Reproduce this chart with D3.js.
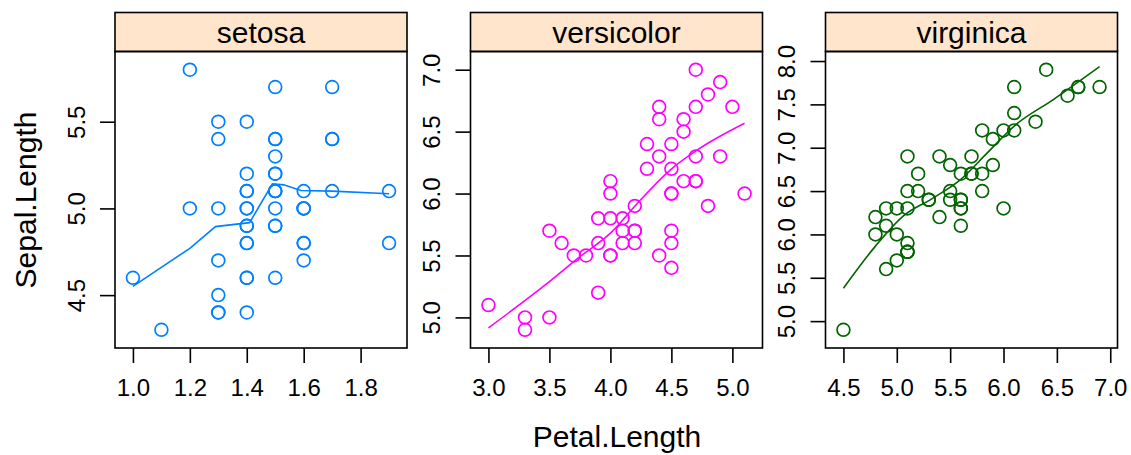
<!DOCTYPE html>
<html>
<head>
<meta charset="utf-8">
<script src="https://d3js.org/d3.v7.min.js"></script>
<style>
  body { margin: 0; background: #fff; }
  svg text { font-family: "Liberation Sans", Arial, Helvetica, sans-serif; fill: #000; }
</style>
</head>
<body>
<svg id="chart" width="1131" height="455"></svg>
<script>
// iris: Petal.Length / Sepal.Length by species
const species = ["setosa", "versicolor", "virginica"];
const colors = ["#0080ff", "#ff00ff", "#006400"];

const setosaPetal = [1.4,1.4,1.3,1.5,1.4,1.7,1.4,1.5,1.4,1.5,1.5,1.6,1.4,1.1,1.2,1.5,1.3,1.4,1.7,1.5,
  1.7,1.5,1.0,1.7,1.9,1.6,1.6,1.5,1.4,1.6,1.6,1.5,1.5,1.4,1.5,1.2,1.3,1.4,1.3,1.5,
  1.3,1.3,1.3,1.6,1.9,1.4,1.6,1.4,1.5,1.4];
const setosaSepal = [5.1,4.9,4.7,4.6,5.0,5.4,4.6,5.0,4.4,4.9,5.4,4.8,4.8,4.3,5.8,5.7,5.4,5.1,5.7,5.1,
  5.4,5.1,4.6,5.1,4.8,5.0,5.0,5.2,5.2,4.7,4.8,5.4,5.2,5.5,4.9,5.0,5.5,4.9,4.4,5.1,
  5.0,4.5,4.4,5.0,5.1,4.8,5.1,4.6,5.3,5.0];

const versicolorPetal = [4.7,4.5,4.9,4.0,4.6,4.5,4.7,3.3,4.6,3.9,3.5,4.2,4.0,4.7,3.6,4.4,4.5,4.1,4.5,3.9,
  4.8,4.0,4.9,4.7,4.3,4.4,4.8,5.0,4.5,3.5,3.8,3.7,3.9,5.1,4.5,4.5,4.7,4.4,4.1,4.0,
  4.4,4.6,4.0,3.3,4.2,4.2,4.2,4.3,3.0,4.1];
const versicolorSepal = [7.0,6.4,6.9,5.5,6.5,5.7,6.3,4.9,6.6,5.2,5.0,5.9,6.0,6.1,5.6,6.7,5.6,5.8,6.2,5.6,
  5.9,6.1,6.3,6.1,6.4,6.6,6.8,6.7,6.0,5.7,5.5,5.5,5.8,6.0,5.4,6.0,6.7,6.3,5.6,5.5,
  5.5,6.1,5.8,5.0,5.6,5.7,5.7,6.2,5.1,5.7];

const virginicaPetal = [6.0,5.1,5.9,5.6,5.8,6.6,4.5,6.3,5.8,6.1,5.1,5.3,5.5,5.0,5.1,5.3,5.5,6.7,6.9,5.0,
  5.7,4.9,6.7,4.9,5.7,6.0,4.8,4.9,5.6,5.8,6.1,6.4,5.6,5.1,5.6,6.1,5.6,5.5,4.8,5.4,
  5.6,5.1,5.1,5.9,5.7,5.2,5.0,5.2,5.4,5.1];
const virginicaSepal = [6.3,5.8,7.1,6.3,6.5,7.6,4.9,7.3,6.7,7.2,6.5,6.4,6.8,5.7,5.8,6.4,6.5,7.7,7.7,6.0,
  6.9,5.6,7.7,6.3,6.7,7.2,6.2,6.1,6.4,7.2,7.4,7.9,6.4,6.3,6.1,7.7,6.3,6.4,6.0,6.9,
  6.7,6.9,5.8,6.8,6.7,6.7,6.3,6.5,6.2,5.9];

// smooth curves
const setosaSmoothX = [1.0, 1.2, 1.29, 1.41, 1.49, 1.53, 1.59, 1.7, 1.9];
const setosaSmoothY = [4.55, 4.77, 4.895, 4.918, 5.142, 5.136, 5.103, 5.10, 5.085];
const versicolorSmoothX = [3.0, 3.5, 3.75, 4.0, 4.22, 4.49, 4.71, 5.1];
const versicolorSmoothY = [4.916, 5.288, 5.49, 5.68, 5.92, 6.19, 6.35, 6.567];
const virginicaSmoothX = [4.5, 4.8, 5.06, 5.32, 5.6, 5.85, 6.1, 6.47, 6.9];
const virginicaSmoothY = [5.38, 5.865, 6.212, 6.405, 6.635, 6.943, 7.25, 7.558, 7.935];

// tick labels
const xTicks = [[1.0,1.2,1.4,1.6,1.8], [3.0,3.5,4.0,4.5,5.0], [4.5,5.0,5.5,6.0,6.5,7.0]];
const yTicks = [[4.5,5.0,5.5], [5.0,5.5,6.0,6.5,7.0], [5.0,5.5,6.0,6.5,7.0,7.5,8.0]];

const panels = [
  {x: setosaPetal, y: setosaSepal, sx: setosaSmoothX, sy: setosaSmoothY, curve: d3.curveLinear},
  {x: versicolorPetal, y: versicolorSepal, sx: versicolorSmoothX, sy: versicolorSmoothY, curve: d3.curveMonotoneX},
  {x: virginicaPetal, y: virginicaSepal, sx: virginicaSmoothX, sy: virginicaSmoothY, curve: d3.curveMonotoneX}
];

const svg = d3.select("#chart");
const panelLefts = [115, 470.5, 825.5];
const panelW = 292;
const stripTop = 12.5, stripBottom = 51.5, plotBottom = 348;

// lattice-style range padding, 7% each side
function padded(vals) {
  const [lo, hi] = d3.extent(vals);
  const pad = (hi - lo) * 0.07;
  return [lo - pad, hi + pad];
}

panels.forEach((p, i) => {
  const left = panelLefts[i];
  const xScale = d3.scaleLinear().domain(padded(p.x)).range([left, left + panelW]);
  const yScale = d3.scaleLinear().domain(padded(p.y)).range([plotBottom, stripBottom]);

  const g = svg.append("g");

  // strip
  g.append("rect")
    .attr("x", left).attr("y", stripTop)
    .attr("width", panelW).attr("height", stripBottom - stripTop)
    .attr("fill", "#ffe5cc").attr("stroke", "#000").attr("stroke-width", 1.6);
  g.append("text")
    .attr("x", left + panelW / 2).attr("y", 43.3)
    .attr("text-anchor", "middle")
    .style("font-size", "30px")
    .text(species[i]);

  // x axis
  const bottomAxis = d3.axisBottom(xScale)
    .tickValues(xTicks[i])
    .tickFormat(d3.format(".1f"))
    .tickSize(15).tickPadding(16);
  const xa = g.append("g")
    .attr("transform", `translate(0,${plotBottom})`)
    .call(bottomAxis);
  xa.select(".domain").remove();
  xa.selectAll("line").attr("stroke", "#000").attr("stroke-width", 1.6);
  xa.selectAll("text").style("font-size", "24px").attr("font-family", null);

  // y axis, labels turned
  const leftAxis = d3.axisLeft(yScale)
    .tickValues(yTicks[i])
    .tickFormat(d3.format(".1f"))
    .tickSize(15);
  const ya = g.append("g")
    .attr("transform", `translate(${left},0)`)
    .call(leftAxis);
  ya.select(".domain").remove();
  ya.selectAll("line").attr("stroke", "#000").attr("stroke-width", 1.6);
  ya.selectAll("text")
    .attr("x", null).attr("dy", null)
    .attr("text-anchor", "middle")
    .attr("transform", "translate(-30.5,0) rotate(-90)")
    .style("font-size", "24px");

  // points
  g.append("g").selectAll("circle")
    .data(p.x.map((v, k) => [v, p.y[k]]))
    .join("circle")
    .attr("cx", d => xScale(d[0]))
    .attr("cy", d => yScale(d[1]))
    .attr("r", 6.4)
    .attr("fill", "none")
    .attr("stroke", colors[i])
    .attr("stroke-width", 1.7);

  // smooth
  const line = d3.line()
    .x(d => xScale(d[0]))
    .y(d => yScale(d[1]))
    .curve(p.curve);
  g.append("path")
    .datum(p.sx.map((v, k) => [v, p.sy[k]]))
    .attr("d", line)
    .attr("fill", "none")
    .attr("stroke", colors[i])
    .attr("stroke-width", 1.6);

  // panel box
  g.append("rect")
    .attr("x", left).attr("y", stripBottom)
    .attr("width", panelW).attr("height", plotBottom - stripBottom)
    .attr("fill", "none").attr("stroke", "#000").attr("stroke-width", 1.6);
});

// axis titles
svg.append("text")
  .attr("x", 617).attr("y", 447)
  .attr("text-anchor", "middle")
  .style("font-size", "30px")
  .text("Petal.Length");

svg.append("text")
  .attr("transform", "translate(36,200) rotate(-90)")
  .attr("text-anchor", "middle")
  .style("font-size", "30px")
  .text("Sepal.Length");
</script>
</body>
</html>
